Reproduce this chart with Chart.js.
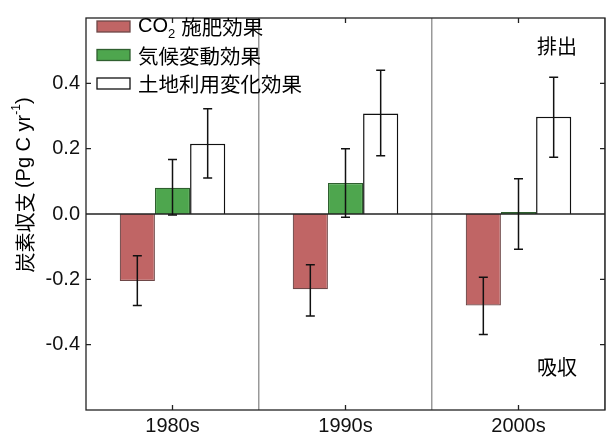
<!DOCTYPE html>
<html>
<head>
<meta charset="utf-8">
<script src="https://cdn.jsdelivr.net/npm/chart.js@4"></script>
<style>
  body { margin: 0; background: #fff; }
  #wrap { width: 606px; height: 435px; }
</style>
</head>
<body>
<div id="wrap"><canvas id="myChart"></canvas></div>
<script>
var decades = ["1980s", "1990s", "2000s"];

var co2Vals  = [-0.205, -0.230, -0.280];
var co2Low   = [-0.280, -0.312, -0.369];
var co2High  = [-0.128, -0.155, -0.194];

var climVals = [0.080, 0.095, 0.006];
var climLow  = [-0.003, -0.010, -0.108];
var climHigh = [0.167, 0.200, 0.108];

var luVals   = [0.215, 0.308, 0.298];
var luLow    = [0.110, 0.178, 0.174];
var luHigh   = [0.322, 0.440, 0.419];

var yTicks = [-0.4, -0.2, 0.0, 0.2, 0.4];

var legendNames = ["施肥効果", "気候変動効果", "土地利用変化効果"];
var latinFont = "'Liberation Sans', Arial, 'Noto Sans CJK JP', sans-serif";
var cjkFont = "'Noto Sans CJK JP', sans-serif";

var errLow = [co2Low, climLow, luLow];
var errHigh = [co2High, climHigh, luHigh];

var extras = {
  id: "extras",
  afterDatasetsDraw: function(chart) {
    var ctx = chart.ctx;
    var a = chart.chartArea;
    var y = chart.scales.y;
    ctx.save();
    // zero line
    ctx.strokeStyle = "#222";
    ctx.lineWidth = 1.3;
    ctx.beginPath();
    ctx.moveTo(a.left, y.getPixelForValue(0));
    ctx.lineTo(a.right, y.getPixelForValue(0));
    ctx.stroke();
    // error bars
    ctx.strokeStyle = "#111";
    ctx.lineWidth = 1.5;
    for (var d = 0; d < 3; d++) {
      var meta = chart.getDatasetMeta(d);
      meta.data.forEach(function(bar, i) {
        var lo = y.getPixelForValue(errLow[d][i]);
        var hi = y.getPixelForValue(errHigh[d][i]);
        ctx.beginPath();
        ctx.moveTo(bar.x, lo); ctx.lineTo(bar.x, hi);
        ctx.moveTo(bar.x - 4.5, lo); ctx.lineTo(bar.x + 4.5, lo);
        ctx.moveTo(bar.x - 4.5, hi); ctx.lineTo(bar.x + 4.5, hi);
        ctx.stroke();
      });
    }
    ctx.restore();
  },
  afterDraw: function(chart) {
    var ctx = chart.ctx;
    var a = chart.chartArea;
    var y = chart.scales.y, x = chart.scales.x;
    ctx.save();
    // frame
    ctx.strokeStyle = "#222";
    ctx.lineWidth = 1.3;
    ctx.strokeRect(a.left, a.top, a.right - a.left, a.bottom - a.top);
    // inward ticks
    ctx.beginPath();
    yTicks.forEach(function(v) {
      if (v === 0) return;
      var py = y.getPixelForValue(v);
      ctx.moveTo(a.left, py); ctx.lineTo(a.left + 5, py);
      ctx.moveTo(a.right, py); ctx.lineTo(a.right - 5, py);
    });
    decades.forEach(function(c, i) {
      var px = x.getPixelForValue(i);
      ctx.moveTo(px, a.top); ctx.lineTo(px, a.top + 5);
      ctx.moveTo(px, a.bottom); ctx.lineTo(px, a.bottom - 5);
    });
    ctx.stroke();

    // legend
    var fills = ["#c06565", "#4ea64e", "#ffffff"];
    var borders = ["#6e4848", "#2f5f2f", "#111"];
    var rowsY = [26.5, 55, 83.5];
    ctx.textBaseline = "middle";
    for (var i = 0; i < 3; i++) {
      ctx.fillStyle = fills[i];
      ctx.strokeStyle = borders[i];
      ctx.lineWidth = 1.3;
      ctx.fillRect(97, rowsY[i] - 5.5, 33, 11);
      ctx.strokeRect(97, rowsY[i] - 5.5, 33, 11);
      ctx.fillStyle = "#000";
      var tx = 138;
      if (i === 0) {
        ctx.font = "20px " + latinFont;
        ctx.fillText("CO", tx, rowsY[i]);
        tx += ctx.measureText("CO").width;
        ctx.font = "13px " + latinFont;
        ctx.fillText("2", tx, rowsY[i] + 8);
        tx += ctx.measureText("2").width + 6;
      }
      ctx.font = "20.5px " + cjkFont;
      ctx.fillText(legendNames[i], tx, rowsY[i] + 1);
    }

    // annotations
    ctx.font = "20px " + cjkFont;
    ctx.textAlign = "center";
    ctx.fillText("排出", 557, 46);
    ctx.fillText("吸収", 557, 367);

    // y title
    ctx.translate(24, 185);
    ctx.rotate(-Math.PI / 2);
    var t1 = "炭素収支 ", t2 = "(Pg C yr", t3 = "-1", t4 = ")";
    ctx.font = "20px " + cjkFont;
    var w1 = ctx.measureText(t1).width;
    ctx.font = "20px " + latinFont;
    var w2 = ctx.measureText(t2).width, w4 = ctx.measureText(t4).width;
    ctx.font = "12px " + latinFont;
    var w3 = ctx.measureText(t3).width;
    var sx = -(w1 + w2 + w3 + w4) / 2;
    ctx.textAlign = "left";
    ctx.font = "20px " + cjkFont;
    ctx.fillText(t1, sx, 1); sx += w1;
    ctx.font = "20px " + latinFont;
    ctx.fillText(t2, sx, 0); sx += w2;
    ctx.font = "12px " + latinFont;
    ctx.fillText(t3, sx, -7); sx += w3;
    ctx.font = "20px " + latinFont;
    ctx.fillText(t4, sx, 0);
    ctx.restore();
  }
};

var ctx = document.getElementById("myChart").getContext("2d");
var myChart = new Chart(ctx, {
  type: "bar",
  data: {
    labels: decades,
    datasets: [
      { label: "CO2 施肥効果", data: co2Vals, backgroundColor: "#c06565", borderColor: "#6e4848", borderWidth: 1.2 },
      { label: "気候変動効果", data: climVals, backgroundColor: "#4ea64e", borderColor: "#2f5f2f", borderWidth: 1.2 },
      { label: "土地利用変化効果", data: luVals, backgroundColor: "#ffffff", borderColor: "#111", borderWidth: 1.5 }
    ]
  },
  options: {
    responsive: true,
    maintainAspectRatio: false,
    animation: false,
    layout: { padding: { top: 10, right: 1, left: 0, bottom: 0 } },
    plugins: { legend: { display: false }, tooltip: { enabled: false } },
    datasets: { bar: { categoryPercentage: 0.61, barPercentage: 1.0 } },
    scales: {
      x: {
        afterFit: function(s) { s.height = 25; },
        grid: {
          offset: true,
          drawTicks: false,
          color: function(c) { return (c.index === 0) ? "rgba(0,0,0,0)" : "#999"; },
          lineWidth: 1.5
        },
        border: { display: false },
        ticks: { color: "#111", padding: 4, font: { family: latinFont, size: 20 } }
      },
      y: {
        min: -0.6,
        max: 0.6,
        afterFit: function(s) { s.width = 86; },
        grid: { display: false, drawTicks: false },
        border: { display: false },
        ticks: {
          stepSize: 0.2,
          padding: 6,
          color: "#111",
          font: { family: latinFont, size: 20 },
          callback: function(v) {
            var r = Math.round(v * 10) / 10;
            if (yTicks.indexOf(r) < 0) return "";
            return r.toFixed(1);
          }
        }
      }
    }
  },
  plugins: [extras]
});
</script>
</body>
</html>
